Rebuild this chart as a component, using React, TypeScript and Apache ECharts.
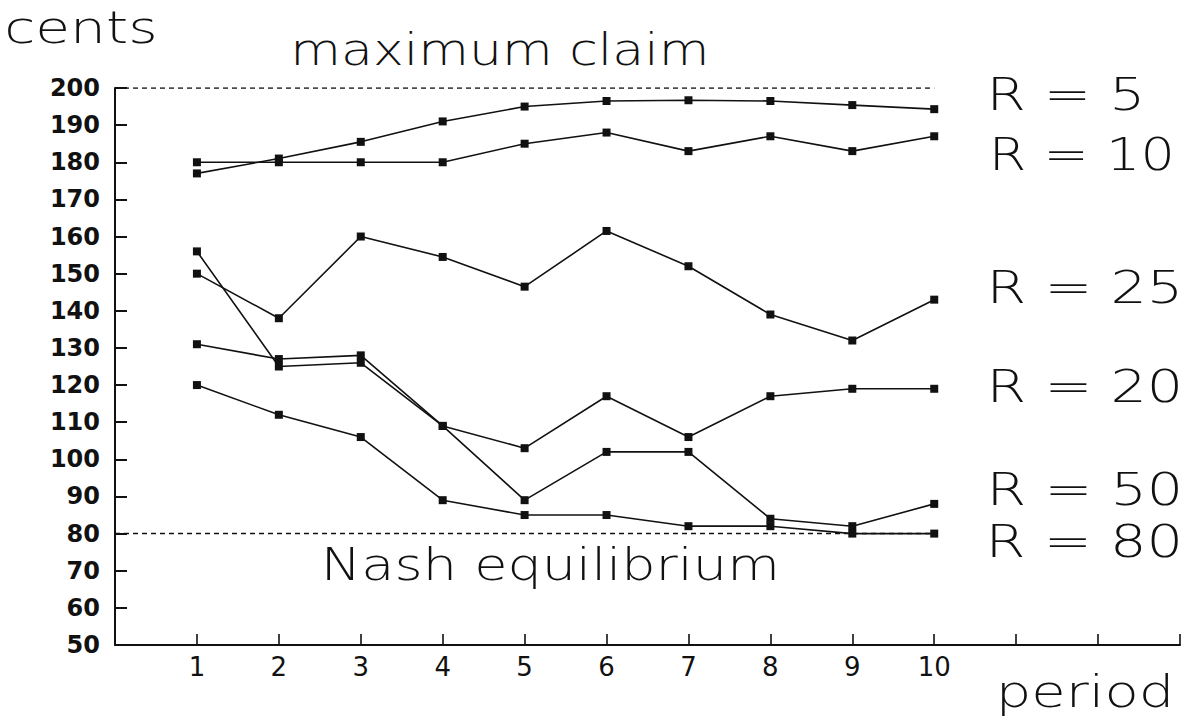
import React, { useEffect, useRef } from 'react';
import * as echarts from 'echarts';

// ---- data ----
const periods = [1, 2, 3, 4, 5, 6, 7, 8, 9, 10];
const r5 = [177, 181, 185.5, 191, 195, 196.5, 196.7, 196.5, 195.4, 194.3];
const r10 = [180, 180, 180, 180, 185, 188, 183, 187, 183, 187];
const r25 = [150, 138, 160, 154.5, 146.5, 161.5, 152, 139, 132, 143];
const r20 = [131, 127, 128, 109, 103, 117, 106, 117, 119, 119];
const r50 = [156, 125, 126, 109, 89, 102, 102, 84, 82, 88];
const r80 = [120, 112, 106, 89, 85, 85, 82, 82, 80, 80];
const seriesNames = ['R = 5', 'R = 10', 'R = 25', 'R = 20', 'R = 50', 'R = 80'];
const seriesValues = [r5, r10, r25, r20, r50, r80];
const xTickLabels = ['1', '2', '3', '4', '5', '6', '7', '8', '9', '10'];
const yMin = 50;
const yMax = 200;
const yStep = 10;
const xMin = 0;
const xMax = 13;
const maxClaim = 200;
const nashEquilibrium = 80;
const refSpan = [0, 10];

const FONT = '"DejaVu Sans", "Liberation Sans", sans-serif';
const BIG = 44;
const BIG_WEIGHT = 200;

// annotation layout: ink left, baseline, ink width
const annotations = [
  { text: 'cents', left: 8, baseline: 43.5, width: 146 },
  { text: 'maximum claim', left: 295, baseline: 64.5, width: 410 },
  { text: 'Nash equilibrium', left: 327, baseline: 580, width: 448 },
  { text: 'period', left: 1002, baseline: 707, width: 166 },
  { text: seriesNames[0], left: 993, baseline: 110, width: 147 },
  { text: seriesNames[1], left: 995, baseline: 170, width: 175 },
  { text: seriesNames[2], left: 993, baseline: 303, width: 185 },
  { text: seriesNames[3], left: 993, baseline: 402, width: 185 },
  { text: seriesNames[4], left: 993, baseline: 505, width: 185 },
  { text: seriesNames[5], left: 992, baseline: 557, width: 186 },
];

function measure(text: string, size: number, weight: number) {
  const c = document.createElement('canvas').getContext('2d');
  if (!c) return { left: 0, width: text.length * size * 0.6 };
  c.font = `${weight} ${size}px ${FONT}`;
  const m = c.measureText(text);
  const abl = m.actualBoundingBoxLeft || 0;
  const abr = m.actualBoundingBoxRight || m.width;
  return { left: abl, width: abl + abr };
}

export default function App() {
  const ref = useRef<HTMLDivElement>(null);
  useEffect(() => {
    if (!ref.current) return;
    const chart = echarts.init(ref.current, undefined, { renderer: 'svg' });

    const graphics = annotations.map((a) => {
      const m = measure(a.text, BIG, BIG_WEIGHT);
      const sx = a.width / m.width;
      return {
        type: 'text',
        x: a.left + m.left * sx,
        y: a.baseline - 0.346 * BIG,
        scaleX: sx,
        scaleY: 1,
        silent: true,
        style: {
          text: a.text,
          fill: '#111',
          font: `${BIG_WEIGHT} ${BIG}px ${FONT}`,
          align: 'left',
          verticalAlign: 'middle',
        },
      };
    });

    const dataSeries = seriesValues.map((vals, si) => ({
      name: seriesNames[si],
      type: 'line',
      data: periods.map((p, i) => [p, vals[i]]),
      symbol: 'rect',
      symbolSize: 8,
      lineStyle: { color: '#111', width: 1.6 },
      itemStyle: { color: '#111' },
      z: 4,
      silent: true,
    }));

    const refSeries = [maxClaim, nashEquilibrium].map((v) => ({
      type: 'line',
      data: refSpan.map((x) => [x, v]),
      symbol: 'none',
      lineStyle: { color: '#111', width: 1.5, type: [5, 4] },
      z: 2,
      silent: true,
    }));

    chart.setOption({
      animation: false,
      backgroundColor: '#ffffff',
      grid: { left: 115, right: 2, top: 88, bottom: 74, containLabel: false },
      xAxis: {
        type: 'value',
        min: xMin,
        max: xMax,
        interval: 1,
        axisLine: { show: true, lineStyle: { color: '#111', width: 2 } },
        axisTick: { show: true, inside: true, length: 11, lineStyle: { color: '#111', width: 1.6 } },
        axisLabel: {
          color: '#111',
          fontSize: 26,
          fontFamily: FONT,
          margin: 9,
          formatter: (v: number) => (v >= 1 && v <= xTickLabels.length ? xTickLabels[v - 1] : ''),
        },
        splitLine: { show: false },
      },
      yAxis: {
        type: 'value',
        min: yMin,
        max: yMax,
        interval: yStep,
        axisLine: { show: true, lineStyle: { color: '#111', width: 2 } },
        axisTick: { show: true, inside: true, length: 12, lineStyle: { color: '#111', width: 2 } },
        axisLabel: {
          color: '#111',
          fontSize: 24,
          fontWeight: 'bold',
          fontFamily: FONT,
          margin: 15,
        },
        splitLine: { show: false },
      },
      series: [...refSeries, ...dataSeries],
      graphic: graphics,
    });
    return () => chart.dispose();
  }, []);
  return (
    <div
      ref={ref}
      style={{ position: 'fixed', left: 0, top: 0, width: 1183, height: 719, background: '#fff' }}
    />
  );
}
